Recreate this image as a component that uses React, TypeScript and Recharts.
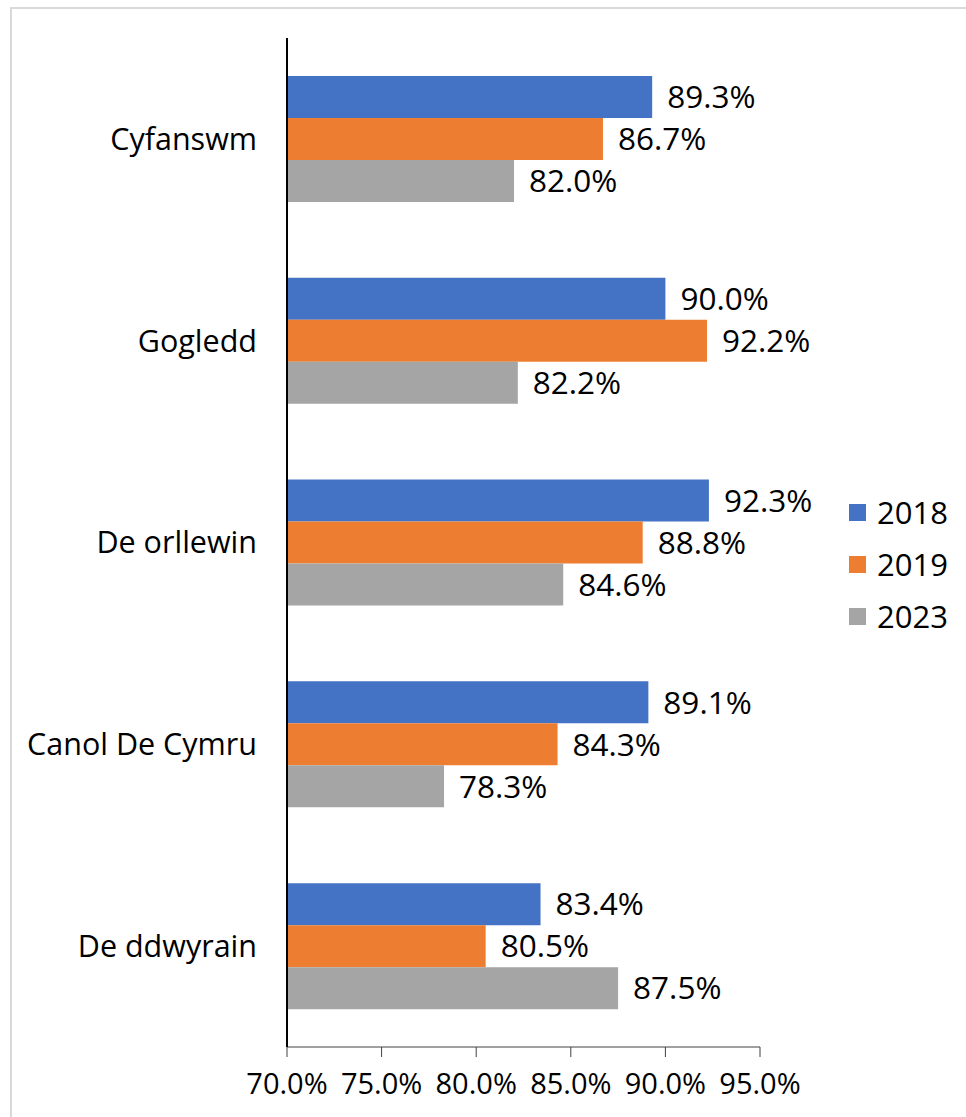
import React from 'react';
import { BarChart, Bar, XAxis, YAxis, LabelList, Legend } from 'recharts';

const categories = ['Cyfanswm', 'Gogledd', 'De orllewin', 'Canol De Cymru', 'De ddwyrain'];
const values2018 = [89.3, 90.0, 92.3, 89.1, 83.4];
const values2019 = [86.7, 92.2, 88.8, 84.3, 80.5];
const values2023 = [82.0, 82.2, 84.6, 78.3, 87.5];
const xTicks = [70, 75, 80, 85, 90, 95];

const series = [
  { key: 'y2018', name: '2018', color: '#4472C4' },
  { key: 'y2019', name: '2019', color: '#ED7D31' },
  { key: 'y2023', name: '2023', color: '#A5A5A5' },
];

const data = categories.map((c, i) => ({
  name: c,
  y2018: values2018[i],
  y2019: values2019[i],
  y2023: values2023[i],
}));

const FONT = '"Open Sans", sans-serif';
const fmt = (v: number) => `${Number(v).toFixed(1)}%`;

const XTick = (props: any) => {
  const { x, y, payload } = props;
  return (
    <text x={x} y={y} dy={22} textAnchor="middle" fill="#000" fontSize={29} fontFamily={FONT}>
      {fmt(payload.value)}
    </text>
  );
};

const LegendContent = () => (
  <div style={{ fontFamily: FONT, fontSize: 31, color: '#000' }}>
    {series.map((s) => (
      <div key={s.key} style={{ display: 'flex', alignItems: 'center', height: 52 }}>
        <div style={{ width: 17, height: 17, background: s.color, marginRight: 11 }} />
        <span>{s.name}</span>
      </div>
    ))}
  </div>
);

export default function App() {
  return (
    <div style={{ position: 'absolute', left: 0, top: 0, width: 966, height: 1117, overflow: 'hidden', background: '#fff' }}>
      <div style={{ position: 'absolute', left: 10, top: 7, width: 1100, height: 1300, border: '2px solid #d9d9d9', boxSizing: 'border-box' }} />
      <div style={{ position: 'absolute', left: 0, top: 0 }}>
        <BarChart
          width={966}
          height={1117}
          data={data}
          layout="vertical"
          margin={{ top: 38, right: 206, bottom: 0, left: 0 }}
          barCategoryGap="18.8%"
          barGap={0}
        >
          <XAxis
            type="number"
            domain={[70, 95]}
            ticks={xTicks}
            tickFormatter={fmt}
            height={70}
            axisLine={{ stroke: '#404040', strokeWidth: 1 }}
            tickLine={{ stroke: '#404040', strokeWidth: 1 }}
            tickSize={10}
            tickMargin={15}
            tick={<XTick />}
            interval={0}
          />
          <YAxis
            type="category"
            dataKey="name"
            width={287}
            axisLine={{ stroke: '#000', strokeWidth: 2 }}
            tickLine={false}
            tickSize={0}
            tickMargin={30}
            tick={{ fill: '#000', fontSize: 30.5, fontFamily: FONT }}
            interval={0}
          />
          <Legend
            layout="vertical"
            align="center"
            verticalAlign="middle"
            content={<LegendContent />}
            wrapperStyle={{ left: 849, top: 486, width: 'auto', height: 'auto' }}
          />
          {series.map((s) => (
            <Bar key={s.key} dataKey={s.key} name={s.name} fill={s.color} isAnimationActive={false}>
              <LabelList
                dataKey={s.key}
                position="right"
                offset={15}
                formatter={fmt}
                style={{ fill: '#000', fontSize: 31.5, fontFamily: FONT }}
              />
            </Bar>
          ))}
        </BarChart>
      </div>
    </div>
  );
}
